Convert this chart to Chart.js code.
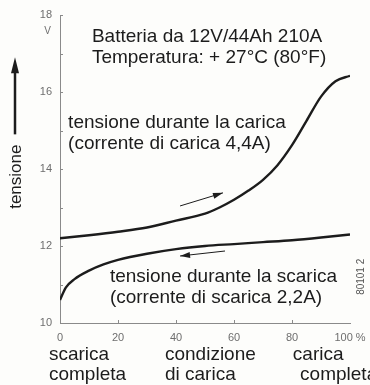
<!DOCTYPE html>
<html>
<head>
<meta charset="utf-8">
<script src="https://cdn.jsdelivr.net/npm/chart.js@4"></script>
<style>
  html, body { margin: 0; padding: 0; background: #fdfdfb; }
  canvas { display: block; }
</style>
</head>
<body>
<canvas id="batteryChart" width="370" height="385"></canvas>
<script>
// state of charge (%) and terminal voltage (V)
const chargeX = [0, 10, 20, 30, 40, 50, 55, 60, 65, 70, 75, 80, 85, 90, 95, 100];
const chargeV = [12.2, 12.28, 12.37, 12.48, 12.66, 12.84, 13.0, 13.2, 13.44, 13.72, 14.1, 14.62, 15.25, 15.88, 16.28, 16.42];

const dischargeX = [0, 2, 5, 10, 15, 20, 30, 40, 50, 60, 70, 80, 90, 100];
const dischargeV = [10.6, 10.92, 11.14, 11.36, 11.52, 11.64, 11.8, 11.92, 12.0, 12.05, 12.1, 12.15, 12.22, 12.3];

const xTicks = [0, 20, 40, 60, 80, 100];
const yTicks = [10, 12, 14, 16, 18];

const FONT = '"Liberation Sans", Arial, sans-serif';
const INK = '#1c1c1c';
const GREY = '#6e6e6e';

const toPoints = (xs, ys) => xs.map((x, i) => ({ x: x, y: ys[i] }));

// text written inside the plot, placed in data units
const notes = [
    { text: 'Batteria da 12V/44Ah 210A', x: 11, y: 17.3 },
    { text: 'Temperatura: + 27°C (80°F)', x: 11, y: 16.75 },
    { text: 'tensione durante la carica', x: 2.8, y: 15.06 },
    { text: '(corrente di carica 4,4A)', x: 2.8, y: 14.52 },
    { text: 'tensione durante la scarica', x: 17.2, y: 11.06 },
    { text: '(corrente di scarica 2,2A)', x: 17.2, y: 10.52 },
];

// captions below the x axis (x in data units, y in px under the plot)
const captions = [
    { text: 'scarica', x: -3.8, dy: 37 },
    { text: 'completa', x: -3.8, dy: 57 },
    { text: 'condizione', x: 36.2, dy: 37 },
    { text: 'di carica', x: 36.2, dy: 57 },
    { text: 'carica', x: 80.3, dy: 37 },
    { text: 'completa', x: 82.8, dy: 57 },
];

// direction arrows next to the curves
const arrows = [
    { from: [41.4, 13.04], to: [56.2, 13.38] },
    { from: [56.9, 11.87], to: [41.4, 11.74] },
];

function arrowHead(ctx, x0, y0, x1, y1, len, half) {
    const a = Math.atan2(y1 - y0, x1 - x0);
    ctx.beginPath();
    ctx.moveTo(x1, y1);
    ctx.lineTo(x1 - len * Math.cos(a) + half * Math.sin(a), y1 - len * Math.sin(a) - half * Math.cos(a));
    ctx.lineTo(x1 - len * Math.cos(a) - half * Math.sin(a), y1 - len * Math.sin(a) + half * Math.cos(a));
    ctx.closePath();
    ctx.fill();
}

const decorations = {
    id: 'decorations',
    afterDraw(chart) {
        const { ctx, chartArea, scales: { x, y } } = chart;
        ctx.save();

        // small inward ticks on both axes
        ctx.strokeStyle = '#8a8a8a';
        ctx.lineWidth = 1;
        ctx.beginPath();
        for (let v = 11; v <= 18; v++) {
            const py = Math.round(y.getPixelForValue(v)) + 0.5;
            ctx.moveTo(chartArea.left, py);
            ctx.lineTo(chartArea.left + 3, py);
        }
        for (let v = 20; v <= 80; v += 20) {
            const px = Math.round(x.getPixelForValue(v)) + 0.5;
            ctx.moveTo(px, chartArea.bottom);
            ctx.lineTo(px, chartArea.bottom - 3);
        }
        ctx.stroke();

        // unit of the voltage axis
        ctx.fillStyle = GREY;
        ctx.font = '10px ' + FONT;
        ctx.textAlign = 'right';
        ctx.textBaseline = 'alphabetic';
        ctx.fillText('V', chartArea.left - 9, y.getPixelForValue(17.5));
        ctx.textAlign = 'left';

        // notes inside the plot
        ctx.fillStyle = INK;
        ctx.font = '19px ' + FONT;
        notes.forEach(n => ctx.fillText(n.text, x.getPixelForValue(n.x), y.getPixelForValue(n.y)));

        // captions under the axis
        captions.forEach(c => ctx.fillText(c.text, x.getPixelForValue(c.x), chartArea.bottom + c.dy));

        // arrows along the curves
        ctx.strokeStyle = INK;
        ctx.fillStyle = INK;
        ctx.lineWidth = 1;
        arrows.forEach(a => {
            const x0 = x.getPixelForValue(a.from[0]), y0 = y.getPixelForValue(a.from[1]);
            const x1 = x.getPixelForValue(a.to[0]), y1 = y.getPixelForValue(a.to[1]);
            ctx.beginPath();
            ctx.moveTo(x0, y0);
            ctx.lineTo(x1, y1);
            ctx.stroke();
            arrowHead(ctx, x0, y0, x1, y1, 10, 3);
        });

        // vertical axis name with its arrow
        const ax = 15;
        ctx.lineWidth = 2.5;
        ctx.beginPath();
        ctx.moveTo(ax, y.getPixelForValue(14.9));
        ctx.lineTo(ax, y.getPixelForValue(16.6));
        ctx.stroke();
        arrowHead(ctx, ax, 200, ax, y.getPixelForValue(16.9), 16, 4);

        ctx.save();
        ctx.translate(ax + 6, y.getPixelForValue(13.8));
        ctx.rotate(-Math.PI / 2);
        ctx.textAlign = 'center';
        ctx.font = '17px ' + FONT;
        ctx.fillText('tensione', 0, 0);
        ctx.restore();

        // drawing number on the right edge
        ctx.save();
        ctx.translate(chartArea.right + 14, y.getPixelForValue(11.2));
        ctx.rotate(-Math.PI / 2);
        ctx.textAlign = 'center';
        ctx.fillStyle = '#555';
        ctx.font = '10px ' + FONT;
        ctx.fillText('80101 2', 0, 0);
        ctx.restore();

        ctx.restore();
    }
};

new Chart(document.getElementById('batteryChart'), {
    type: 'line',
    data: {
        datasets: [
            {
                label: 'carica',
                data: toPoints(chargeX, chargeV),
                borderColor: INK,
                borderWidth: 2.4,
                pointRadius: 0,
                cubicInterpolationMode: 'monotone',
                fill: false,
            },
            {
                label: 'scarica',
                data: toPoints(dischargeX, dischargeV),
                borderColor: INK,
                borderWidth: 2.4,
                pointRadius: 0,
                cubicInterpolationMode: 'monotone',
                fill: false,
            },
        ]
    },
    options: {
        responsive: false,
        animation: false,
        layout: { padding: { top: 15, right: 20, left: 0, bottom: 0 } },
        plugins: {
            legend: { display: false },
            tooltip: { enabled: false },
        },
        scales: {
            x: {
                type: 'linear',
                min: 0,
                max: 100,
                afterBuildTicks: s => { s.ticks = xTicks.map(v => ({ value: v })); },
                afterFit: s => { s.height = 62; s.paddingLeft = 0; s.paddingRight = 0; },
                grid: { display: false, drawTicks: false },
                border: { color: '#8a8a8a', width: 1 },
                ticks: {
                    color: GREY,
                    font: { family: FONT, size: 11 },
                    padding: 8,
                    maxRotation: 0,
                    callback: v => (v === 100 ? '100 %' : v),
                },
            },
            y: {
                type: 'linear',
                min: 10,
                max: 18,
                afterBuildTicks: s => { s.ticks = yTicks.map(v => ({ value: v })); },
                afterFit: s => { s.width = 60; s.paddingTop = 0; s.paddingBottom = 0; },
                grid: { display: false, drawTicks: false },
                border: { color: '#8a8a8a', width: 1 },
                ticks: { color: GREY, font: { family: FONT, size: 11 }, padding: 8 },
            },
        },
    },
    plugins: [decorations],
});
</script>
</body>
</html>
